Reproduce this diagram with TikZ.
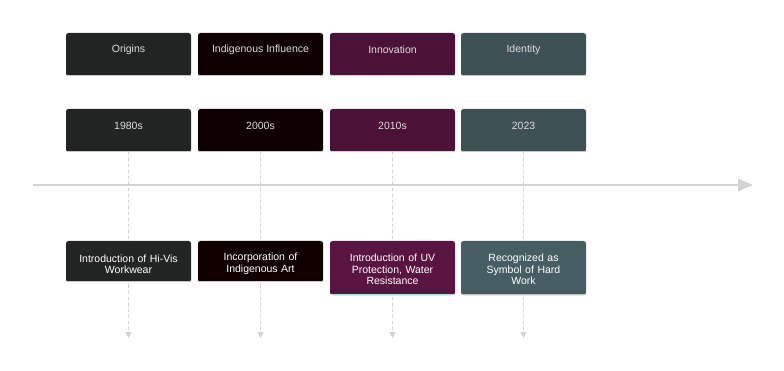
\documentclass[tikz,border=0pt]{standalone}
\usepackage{fontspec}
\setmainfont{Liberation Sans}
\usetikzlibrary{arrows.meta}
\definecolor{cA}{HTML}{222424}
\definecolor{cB}{HTML}{0E0000}
\definecolor{cC}{HTML}{4B1136}
\definecolor{cD}{HTML}{3E5157}
\definecolor{bA}{HTML}{232525}
\definecolor{bB}{HTML}{100000}
\definecolor{bC}{HTML}{5A1441}
\definecolor{bD}{HTML}{475D64}
\definecolor{lnA}{HTML}{C8C8C8}
\definecolor{lnC}{HTML}{A8E8D0}
\definecolor{lnD}{HTML}{D8BCB4}
\definecolor{txt}{HTML}{DDDDDD}
\definecolor{axis}{HTML}{D3D3D3}
\begin{document}
\begin{tikzpicture}[x=1pt,y=-1pt,
  card/.style={rounded corners=2.5pt, draw=none},
  lbl/.style={text=txt, font=\fontsize{10.5}{12.5}\selectfont, anchor=center},
  dlbl/.style={text=white, font=\fontsize{10.5}{11.5}\selectfont, align=center, anchor=center, text width=112pt},
  guide/.style={draw=axis, dash pattern=on 3pt off 3pt, line width=0.8pt},
  guidetip/.style={-{Triangle[width=6pt,length=6pt]}}
]
\useasboundingbox (0,0) rectangle (784,371);
% timeline
\coordinate (tl0) at (33,185);
\coordinate (tl1) at (753,185);
\draw[axis, line width=2.5pt, -{Triangle[width=12pt,length=15pt]}] (tl0) -- (tl1);

\foreach \i/\xl/\ct/\ul/\top/\yr in {1/66/cA/lnA/Origins/1980s, 2/198/cB/lnA/Indigenous Influence/2000s, 3/330/cC/lnC/Innovation/2010s, 4/461/cD/lnD/Identity/2023}{
  \pgfmathsetmacro{\xr}{\xl+125}
  \pgfmathsetmacro{\xc}{\xl+62.5}
  % top card
  \fill[card,\ct] (\xl,33) rectangle (\xr,76);
  \fill[\ul] (\xl+0.5,74.6) rectangle (\xr-0.5,76.4);
  \node[lbl] (t\i) at (\xc,50) {\top};
  % year card
  \fill[card,\ct] (\xl,109) rectangle (\xr,152);
  \fill[\ul] (\xl+0.5,150.6) rectangle (\xr-0.5,152.4);
  \node[lbl] (y\i) at (\xc,126) {\yr};
  \coordinate (ys\i) at (\xc,152.5);
  \coordinate (ye\i) at (\xc,338);
}
% guide lines
\foreach \i in {1,...,4}{
  \draw[guide, guidetip, fill=axis] (ys\i) -- (ye\i);
}
% bottom cards
\fill[card,bA] (66,241) rectangle (191,282);
\fill[lnA] (66.5,280.6) rectangle (190.5,282.4);
\node[dlbl] (d1) at (128.5,264) {Introduction of Hi-Vis\\Workwear};
\fill[card,bB] (198,241) rectangle (323,282);
\fill[lnA] (198.5,280.6) rectangle (322.5,282.4);
\node[dlbl] (d2) at (260.5,264) {Incorporation of\\Indigenous Art};
\fill[card,bC] (330,241) rectangle (455,295);
\fill[lnC] (330.5,293.6) rectangle (454.5,295.4);
\node[dlbl] (d3) at (392.5,269.5) {Introduction of UV\\Protection, Water\\Resistance};
\fill[card,bD] (461,241) rectangle (586,295);
\fill[lnD] (461.5,293.6) rectangle (585.5,295.4);
\node[dlbl] (d4) at (523.5,269.5) {Recognized as\\Symbol of Hard\\Work};
\end{tikzpicture}
\end{document}
